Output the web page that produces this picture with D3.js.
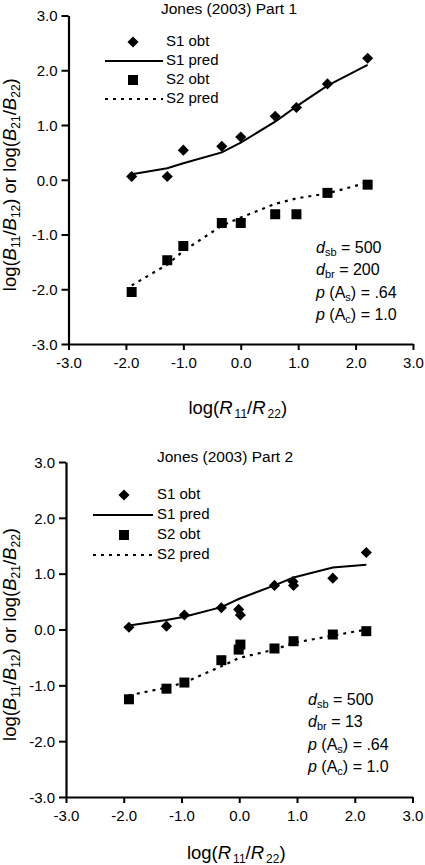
<!DOCTYPE html>
<html>
<head>
<meta charset="utf-8">
<script src="https://cdn.jsdelivr.net/npm/d3@7"></script>
<style>
  html, body { margin: 0; padding: 0; background: #fff; }
  svg { display: block; font-family: "Liberation Sans", Arial, Helvetica, sans-serif; }
</style>
</head>
<body>
<svg id="chart" width="425" height="865"></svg>
<script>
// ---------- Data ----------
const tickValues = [-3, -2, -1, 0, 1, 2, 3];

// Panel 1: Jones (2003) Part 1
const p1Title = "Jones (2003) Part 1";
const p1X = [-1.9, -1.28, -1.0, -0.33, 0.0, 0.6, 0.97, 1.51, 2.21];
const p1S1Obt = [0.06, 0.06, 0.54, 0.61, 0.78, 1.16, 1.32, 1.75, 2.22];
const p1S1Pred = [0.10, 0.21, 0.30, 0.50, 0.68, 1.06, 1.34, 1.72, 2.10];
const p1S2Obt = [-2.05, -1.47, -1.21, -0.79, -0.79, -0.63, -0.63, -0.24, -0.09];
const p1S2Pred = [-1.93, -1.55, -1.30, -0.84, -0.69, -0.44, -0.34, -0.25, -0.05];
const p1Params = ["500", "200", ".64", "1.0"];

// Panel 2: Jones (2003) Part 2
const p2Title = "Jones (2003) Part 2";
const p2S1X = [-1.91, -1.26, -0.95, -0.31, -0.01, 0.02, 0.61, 0.93, 0.94, 1.62, 2.2];
const p2S1Obt = [0.04, 0.06, 0.26, 0.39, 0.36, 0.26, 0.79, 0.86, 0.79, 0.92, 1.38];
const p2S2X = [-1.91, -1.26, -0.95, -0.31, -0.01, 0.02, 0.61, 0.94, 1.62, 2.2];
const p2S2Obt = [-1.25, -1.06, -0.95, -0.55, -0.36, -0.27, -0.34, -0.21, -0.09, -0.03];
const p2PredX = [-1.91, -1.26, -0.95, -0.31, 0.0, 0.61, 0.94, 1.62, 2.2];
const p2S1Pred = [0.07, 0.17, 0.23, 0.40, 0.55, 0.79, 0.93, 1.11, 1.16];
const p2S2Pred = [-1.18, -1.04, -0.95, -0.66, -0.51, -0.36, -0.24, -0.11, 0.0];
const p2Params = ["500", "13", ".64", "1.0"];

const legendLabels = ["S1 obt", "S1 pred", "S2 obt", "S2 pred"];

// ---------- Drawing ----------
const svg = d3.select("#chart");
const fmt = d => d.toFixed(1);
const FONT = 15;

function drawPanel(cfg) {
  const x = d3.scaleLinear().domain([-3, 3]).range([cfg.left, cfg.right]);
  const y = d3.scaleLinear().domain([-3, 3]).range([cfg.bottom, cfg.top]);
  const g = svg.append("g");

  // axes
  const yAxis = d3.axisLeft(y).tickValues(tickValues).tickFormat(fmt).tickSize(7).tickSizeOuter(0).tickPadding(4);
  const xAxis = d3.axisBottom(x).tickValues(tickValues).tickFormat(fmt).tickSize(6).tickSizeOuter(0).tickPadding(7);
  const ya = g.append("g").attr("transform", `translate(${cfg.left},0)`).call(yAxis);
  const xa = g.append("g").attr("transform", `translate(0,${cfg.bottom})`).call(xAxis);
  [ya, xa].forEach(a => {
    a.select(".domain").attr("stroke", "#000").attr("stroke-width", 2.2);
    a.selectAll(".tick line").attr("stroke", "#000").attr("stroke-width", 2);
    a.selectAll(".tick text").attr("fill", "#000").style("font-size", FONT + "px")
      .style("font-family", '"Liberation Sans", Arial, sans-serif');
  });
  ya.selectAll(".tick text").attr("dy", "0.35em");

  // title
  g.append("text").attr("x", cfg.titleX).attr("y", cfg.titleY)
    .attr("text-anchor", "middle").style("font-size", "15.5px").text(cfg.title);

  // x axis title
  const xt = g.append("text").attr("x", (cfg.left + cfg.right) / 2 - 3).attr("y", cfg.xTitleY)
    .attr("text-anchor", "middle").style("font-size", "18.5px");
  xt.append("tspan").text("log(");
  xt.append("tspan").style("font-style", "italic").text("R");
  xt.append("tspan").attr("dx", 2).attr("dy", 4).style("font-size", "12px").text("11");
  xt.append("tspan").attr("dy", -4).text("/");
  xt.append("tspan").style("font-style", "italic").text("R");
  xt.append("tspan").attr("dx", 2).attr("dy", 4).style("font-size", "12px").text("22");
  xt.append("tspan").attr("dy", -4).text(")");

  // y axis title
  const cy = (cfg.top + cfg.bottom) / 2 + 5;
  const yt = g.append("text").attr("transform", `translate(${cfg.yTitleX},${cy}) rotate(-90)`)
    .attr("text-anchor", "middle").style("font-size", "18.5px");
  const parts = [["log(", 0], ["B", 1], ["11", 2], ["/", 0], ["B", 1], ["12", 2], [") or log(", 0],
                 ["B", 1], ["21", 2], ["/", 0], ["B", 1], ["22", 2], [")", 0]];
  let sub = false;
  parts.forEach(([t, k]) => {
    const ts = yt.append("tspan").text(t);
    if (k === 1) ts.style("font-style", "italic");
    if (k === 2) { ts.style("font-size", "12px").attr("dy", 4); sub = true; }
    else if (sub) { ts.attr("dy", -4); sub = false; }
  });

  // lines
  const line1 = d3.line().x(d => x(d[0])).y(d => y(d[1]));
  g.append("path").datum(cfg.predX.map((v, i) => [v, cfg.s1Pred[i]]))
    .attr("d", line1).attr("fill", "none").attr("stroke", "#000").attr("stroke-width", 2);
  g.append("path").datum(cfg.predX.map((v, i) => [v, cfg.s2Pred[i]]))
    .attr("d", line1).attr("fill", "none").attr("stroke", "#000").attr("stroke-width", 2.2)
    .attr("stroke-dasharray", "3,5");

  // markers
  const diamond = d3.symbol(d3.symbolSquare, 62)();
  const square = d3.symbol(d3.symbolSquare, 100)();
  g.selectAll(".s1").data(cfg.s1X.map((v, i) => [v, cfg.s1Obt[i]])).join("path")
    .attr("d", diamond).attr("fill", "#000")
    .attr("transform", d => `translate(${x(d[0])},${y(d[1])}) rotate(45)`);
  g.selectAll(".s2").data(cfg.s2X.map((v, i) => [v, cfg.s2Obt[i]])).join("path")
    .attr("d", square).attr("fill", "#000")
    .attr("transform", d => `translate(${x(d[0])},${y(d[1])})`);

  // legend
  const L = cfg.legend;
  g.append("path").attr("d", diamond).attr("fill", "#000")
    .attr("transform", `translate(${L.mx},${L.y0 - 4}) rotate(45)`);
  g.append("line").attr("x1", L.lx1).attr("x2", L.lx2)
    .attr("y1", L.y0 - 4 + L.dy).attr("y2", L.y0 - 4 + L.dy).attr("stroke", "#000").attr("stroke-width", 2);
  g.append("path").attr("d", square).attr("fill", "#000")
    .attr("transform", `translate(${L.mx},${L.y0 - 4 + 2 * L.dy})`);
  g.append("line").attr("x1", L.lx1).attr("x2", L.lx2)
    .attr("y1", L.y0 - 4 + 3 * L.dy).attr("y2", L.y0 - 4 + 3 * L.dy).attr("stroke", "#000")
    .attr("stroke-width", 2.2).attr("stroke-dasharray", "3,5");
  legendLabels.forEach((t, i) => {
    g.append("text").attr("x", L.tx).attr("y", L.y0 + i * L.dy).style("font-size", "15px").text(t);
  });

  // parameter annotations
  const A = cfg.ann;
  const rows = [["d", "sb", cfg.params[0], false], ["d", "br", cfg.params[1], false],
                ["p", "s", cfg.params[2], true], ["p", "c", cfg.params[3], true]];
  rows.forEach((r, i) => {
    const t = g.append("text").attr("x", A.x).attr("y", A.y0 + i * A.dy).style("font-size", "16px");
    t.append("tspan").style("font-style", "italic").text(r[0]);
    if (!r[3]) {
      t.append("tspan").attr("dy", 3).style("font-size", "11px").text(r[1]);
      t.append("tspan").attr("dy", -3).text(" = " + r[2]);
    } else {
      t.append("tspan").text(" (A");
      t.append("tspan").attr("dy", 3).style("font-size", "11px").text(r[1]);
      t.append("tspan").attr("dy", -3).text(") = " + r[2]);
    }
  });
}

drawPanel({
  title: p1Title, left: 68.5, right: 413, top: 15.5, bottom: 344,
  titleX: 229, titleY: 14, xTitleY: 414, yTitleX: 16,
  predX: p1X, s1Pred: p1S1Pred, s2Pred: p1S2Pred,
  s1X: p1X, s1Obt: p1S1Obt, s2X: p1X, s2Obt: p1S2Obt,
  legend: { mx: 133, lx1: 105, lx2: 163, tx: 166, y0: 46, dy: 19 },
  ann: { x: 316, y0: 253, dy: 22.4 }, params: p1Params
});

drawPanel({
  title: p2Title, left: 66, right: 412.5, top: 462, bottom: 797,
  titleX: 225, titleY: 462, xTitleY: 859, yTitleX: 16,
  predX: p2PredX, s1Pred: p2S1Pred, s2Pred: p2S2Pred,
  s1X: p2S1X, s1Obt: p2S1Obt, s2X: p2S2X, s2Obt: p2S2Obt,
  legend: { mx: 124, lx1: 93, lx2: 153, tx: 157, y0: 499, dy: 20 },
  ann: { x: 308, y0: 705, dy: 22.4 }, params: p2Params
});
</script>
</body>
</html>
